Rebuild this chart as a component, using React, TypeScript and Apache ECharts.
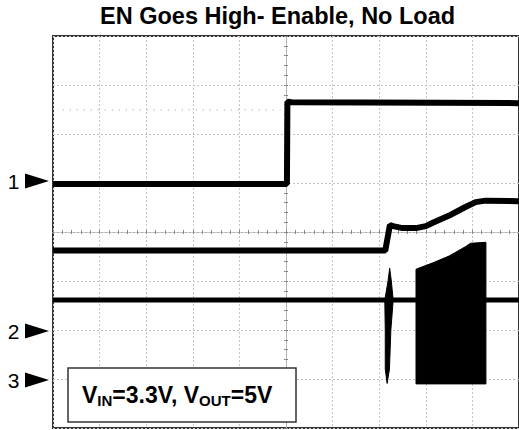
import React, { useEffect, useRef } from "react";
import * as echarts from "echarts";

// Title and annotation texts
const titleText = "EN Goes High- Enable, No Load";
const noteParts = ["V", "IN", "=3.3V, V", "OUT", "=5V"];

// Channel markers (ground levels, in divisions from the screen centre)
const channelLabels = ["1", "2", "3"];
const channelGround = [1, -2, -3];
const markerNudge = [-2, 1, 1];

// Traces: [time div, level div], screen centre = (0, 0)
const ch1Trace = [
  [-5, 0.98],
  [0.02, 0.98],
  [0.03, 2.66],
  [0.12, 2.65],
  [5, 2.63],
];
const ch2Trace = [
  [-5, -0.38],
  [2.13, -0.38],
  [2.23, 0.14],
  [2.3, 0.12],
  [2.5, 0.08],
  [2.79, 0.08],
  [3.0, 0.12],
  [3.15, 0.19],
  [3.49, 0.33],
  [3.85, 0.51],
  [4.07, 0.61],
  [4.28, 0.64],
  [5, 0.63],
];
const ch3Trace = [
  [-5, -1.39],
  [5, -1.39],
];
const ch3Spike = [
  [2.225, -0.74],
  [2.26, -1.0],
  [2.3, -1.39],
  [2.25, -2.0],
  [2.22, -2.8],
  [2.17, -3.09],
  [2.13, -2.8],
  [2.13, -2.0],
  [2.12, -1.39],
  [2.19, -1.0],
];
const ch3Burst = [
  [2.79, -3.1],
  [2.79, -0.76],
  [3.15, -0.63],
  [3.5, -0.49],
  [3.85, -0.3],
  [3.96, -0.23],
  [4.29, -0.21],
  [4.29, -3.1],
];
const refLevel = [
  [-4.79, 2.49],
  [-0.12, 2.49],
];

const FONT = "'Liberation Sans', Arial, Helvetica, sans-serif";
const GRID_DOT = { color: "#c4c4c4", type: [2, 2] as number[], width: 1 };

export default function App() {
  const ref = useRef<HTMLDivElement>(null);

  useEffect(() => {
    if (!ref.current) return;
    const chart = echarts.init(ref.current, undefined, { renderer: "svg" });
    const shapes = [ch3Spike, ch3Burst];

    const mainX = {
      type: "value",
      min: -5,
      max: 5,
      interval: 1,
      axisLine: { show: false },
      axisTick: { show: false },
      axisLabel: { show: false },
      splitLine: { show: true, lineStyle: GRID_DOT },
    };
    const mainY = {
      type: "value",
      min: -4,
      max: 4,
      interval: 1,
      axisLine: { show: false },
      axisTick: { show: false },
      axisLabel: { show: false },
      splitLine: { show: true, lineStyle: GRID_DOT },
    };
    const tickAxis = (pos: string, min: number, max: number) => ({
      type: "value",
      min,
      max,
      interval: 0.2,
      position: pos,
      axisLine: {
        show: true,
        onZero: true,
        onZeroAxisIndex: 0,
        lineStyle: { color: "#b0b0b0", type: [2, 2], width: 1 },
      },
      axisTick: { show: true, inside: true, length: 2, lineStyle: { color: "#888", width: 1 } },
      axisLabel: { show: false },
      splitLine: { show: false },
    });

    chart.setOption({
      animation: false,
      backgroundColor: "#fff",
      title: {
        text: titleText,
        left: 100,
        top: 4,
        padding: 0,
        textStyle: { fontSize: 23.5, fontWeight: "bold", fontFamily: FONT, color: "#000" },
      },
      grid: {
        left: 53,
        top: 36,
        width: 471,
        height: 392,
        show: true,
        borderColor: "#333",
        borderWidth: 2,
        backgroundColor: "transparent",
        containLabel: false,
      },
      xAxis: [mainX, tickAxis("bottom", -5, 5), tickAxis("top", -5, 5)],
      yAxis: [mainY, tickAxis("left", -4, 4), tickAxis("right", -4, 4)],
      series: [
        {
          type: "line",
          name: "ref",
          data: refLevel,
          symbol: "none",
          lineStyle: { color: "#999", width: 1, type: [1, 6] },
        },
        {
          type: "line",
          name: "CH1 EN",
          data: ch1Trace,
          symbol: "none",
          lineStyle: { color: "#000", width: 6 },
        },
        {
          type: "line",
          name: "CH2",
          data: ch2Trace,
          symbol: "none",
          lineStyle: { color: "#000", width: 6 },
        },
        {
          type: "line",
          name: "CH3",
          data: ch3Trace,
          symbol: "none",
          lineStyle: { color: "#000", width: 5 },
        },
        {
          type: "custom",
          name: "CH3 switching",
          coordinateSystem: "cartesian2d",
          data: shapes.map((s) => s[0]),
          encode: { x: 0, y: 1 },
          clip: true,
          renderItem: (params: any, api: any) => {
            const poly = shapes[params.dataIndex];
            const points = poly.map((p) => api.coord(p));
            return { type: "polygon", shape: { points }, style: { fill: "#000", stroke: "#000", lineWidth: 1 } };
          },
          z: 3,
        },
      ],
    });

    const graphics: any[] = [];
    channelLabels.forEach((lab, i) => {
      const p = chart.convertToPixel({ xAxisIndex: 0, yAxisIndex: 0 }, [-5, channelGround[i]]) as number[];
      const y = p[1] + markerNudge[i];
      graphics.push({
        type: "text",
        z: 100,
        x: 19.5,
        y,
        style: {
          text: lab,
          fontSize: 21,
          fontFamily: FONT,
          fill: "#000",
          align: "right",
          verticalAlign: "middle",
        },
      });
      graphics.push({
        type: "polygon",
        z: 100,
        shape: {
          points: [
            [25, y - 7.5],
            [25, y + 7.5],
            [49, y],
          ],
        },
        style: { fill: "#000" },
      });
    });
    graphics.push({
      type: "rect",
      z: 100,
      shape: { x: 68, y: 368, width: 228, height: 54 },
      style: { fill: "#fff", stroke: "#333", lineWidth: 1.5 },
    });
    graphics.push({
      type: "text",
      z: 101,
      x: 82,
      y: 382,
      style: {
        text: `{a|${noteParts[0]}}{s|${noteParts[1]}}{a|${noteParts[2]}}{s|${noteParts[3]}}{a|${noteParts[4]}}`,
        verticalAlign: "top",
        rich: {
          a: { fontSize: 23, fontWeight: "bold", fontFamily: FONT, fill: "#000", lineHeight: 26 },
          s: {
            fontSize: 15,
            fontWeight: "bold",
            fontFamily: FONT,
            fill: "#000",
            lineHeight: 15,
            verticalAlign: "bottom",
          },
        },
      },
    });
    chart.setOption({ graphic: graphics });

    return () => chart.dispose();
  }, []);

  return (
    <div
      ref={ref}
      style={{ position: "fixed", left: 0, top: 0, width: 519, height: 430, background: "#fff" }}
    />
  );
}
